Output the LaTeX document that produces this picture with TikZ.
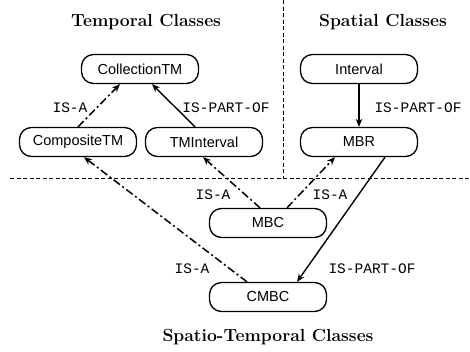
\documentclass[tikz,border=0pt]{standalone}
\usepackage{fontspec}
\newfontfamily\nodefont{Liberation Sans}
\newfontfamily\labfont{Liberation Mono}
\usetikzlibrary{arrows.meta,calc}
\tikzset{
  cls/.style={draw, line width=1.3pt, rounded corners=12pt, minimum width=117pt, minimum height=29pt, inner sep=0pt, font=\nodefont\fontsize{14.5}{16}\selectfont},
  lab/.style={font=\labfont\fontsize{14.5}{16}\selectfont, inner sep=0pt},
  ttl/.style={font=\bfseries\fontsize{17.5}{20}\selectfont, inner sep=0pt},
  tip/.style={-{Stealth[length=8pt,width=6.5pt]}},
  part/.style={tip, line width=1.4pt},
  isa/.style={tip, line width=1.5pt, dash pattern=on 8pt off 3pt on 2pt off 3pt},
  sep/.style={line width=1pt, dash pattern=on 4pt off 2.5pt}
}
\begin{document}
\begin{tikzpicture}[x=1pt,y=-1pt]
\useasboundingbox (0,0) rectangle (470,351);
% separators
\coordinate (vtop) at (283,0);
\coordinate (vbot) at (283,178);
\coordinate (hl) at (10,178);
\coordinate (hr) at (470,178);
\draw[sep] (vtop) -- (vbot);
\draw[sep] (hl) -- (hr);
% titles
\node[ttl] (tt) at (146,22) {Temporal Classes};
\node[ttl] (st) at (383,22) {Spatial Classes};
\node[ttl] (stt) at (268,337) {Spatio-Temporal Classes};
% nodes
\node[cls] (coll) at (140,69) {CollectionTM};
\node[cls] (comp) at (78,142) {CompositeTM};
\node[cls] (tmi) at (204,142) {TMInterval};
\node[cls] (int) at (359,69) {Interval};
\node[cls] (mbr) at (359,142) {MBR};
\node[cls] (mbc) at (268,223) {MBC};
\node[cls] (cmbc) at (268,297) {CMBC};
% edges
\draw[isa] (comp.north) -- ([xshift=-20pt]coll.south);
\draw[part] ([xshift=-9pt]tmi.north) -- ([xshift=12pt]coll.south);
\draw[part] (int.south) -- (mbr.north);
\draw[isa] ([xshift=-8pt]mbc.north) -- ([xshift=-1pt]tmi.south);
\draw[isa] ([xshift=19pt]mbc.north) -- ([xshift=-24pt]mbr.south);
\draw[isa] ([xshift=-21pt]cmbc.north) -- ([xshift=6pt]comp.south);
\draw[part] ([xshift=26pt]mbr.south) -- ([xshift=29pt]cmbc.north);
% labels
\node[lab] (l1) at (70,108) {IS-A};
\node[lab] (l2) at (226,108) {IS-PART-OF};
\node[lab] (l3) at (418,108) {IS-PART-OF};
\node[lab] (l4) at (213,195) {IS-A};
\node[lab] (l5) at (330,195) {IS-A};
\node[lab] (l6) at (192,269) {IS-A};
\node[lab] (l7) at (372,269) {IS-PART-OF};
\end{tikzpicture}
\end{document}
